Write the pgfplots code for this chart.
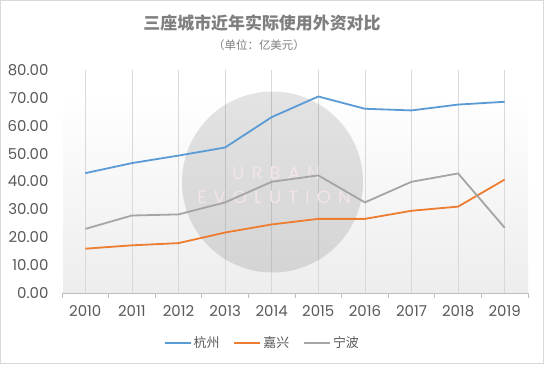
\documentclass[border=0pt]{standalone}
\usepackage{pgfplots}
\pgfplotsset{compat=1.18}
\usepackage{fontspec}
\setmainfont{Poppins}
\newfontfamily\cjk{Noto Sans CJK SC}
\definecolor{hz}{HTML}{5B9BD5}
\definecolor{jx}{HTML}{ED7D31}
\definecolor{nb}{HTML}{A5A5A5}
\definecolor{txt}{HTML}{595959}
\definecolor{ttl}{HTML}{7F7F7F}
\definecolor{wm}{HTML}{F3E4E8}
\pgfdeclarelayer{bg}
\pgfsetlayers{bg,main}
\begin{document}
\begin{tikzpicture}
\begin{axis}[
  at={(0,0)}, anchor=south west, scale only axis,
  width=466bp, height=223bp,
  xmin=-0.5, xmax=9.5, ymin=0, ymax=80,
  clip=false,
  axis lines*=left,
  x axis line style={draw=black!25, line width=0.8bp},
  y axis line style={draw=none},
  xtick={0,...,9},
  xticklabels={2010,2011,2012,2013,2014,2015,2016,2017,2018,2019},
  minor xtick={-0.5,0.5,...,9.5},
  xmajorgrids=true, xminorgrids=false,
  major grid style={draw=black!15, line width=0.8bp},
  major tick length=0pt,
  minor tick length=5bp,
  tick align=outside,
  minor x tick style={draw=black!25, line width=0.8bp},
  ytick={0,10,...,80},
  /pgf/number format/assume math mode=true,
  yticklabel style={/pgf/number format/fixed, /pgf/number format/fixed zerofill, /pgf/number format/precision=2, xshift=-10bp},
  tick label style={text=txt, font=\fontsize{15}{15}\selectfont},
  xticklabel style={yshift=-9bp},
  legend style={at={(0.43,-0.224)}, anchor=center, draw=none, fill=none,
    legend columns=3, font=\cjk\fontsize{13}{13}\selectfont, text=txt,
    /tikz/every even column/.append style={column sep=12bp}},
  legend image code/.code={\draw[#1, line width=1.8bp] (0,0) -- (26bp,0);},
  every axis plot/.append style={line width=1.8bp, mark=none},
]
\fill[black, opacity=0.11] (axis cs:4.017,39.82) circle [radius=90.5bp];
\node[text=wm, font=\addfontfeature{LetterSpace=40}\fontsize{18}{18}\selectfont] at (axis cs:4.092,43.05) {URBAN};
\node[text=wm, font=\addfontfeature{LetterSpace=40}\fontsize{18}{18}\selectfont] at (axis cs:4.049,34.44) {EVOLUTION};
\addplot[hz] coordinates {(0,43.0) (1,46.6) (2,49.3) (3,52.2) (4,63.1) (5,70.5) (6,66.1) (7,65.5) (8,67.6) (9,68.6)};
\addlegendentry{杭州}
\addplot[jx] coordinates {(0,15.9) (1,17.1) (2,17.9) (3,21.7) (4,24.6) (5,26.6) (6,26.6) (7,29.5) (8,31.0) (9,40.7)};
\addlegendentry{嘉兴}
\addplot[nb] coordinates {(0,23.0) (1,27.8) (2,28.2) (3,32.5) (4,39.9) (5,42.2) (6,32.5) (7,39.9) (8,42.9) (9,23.4)};
\addlegendentry{宁波}
\end{axis}
\begin{scope}[x=1bp, y=-1bp, shift={(-62bp,293bp)}]
\begin{pgfonlayer}{bg}
\fill[white] (0,0) rectangle (544,364);
\shade[top color=white, bottom color=black!7] (63,94) rectangle (528,293);
\end{pgfonlayer}
\draw[color=black!15, line width=1bp] (0.5,0.5) rectangle (543.5,363.5);
\node[font=\cjk\bfseries\fontsize{17}{17}\selectfont, text=ttl] at (262,23) {三座城市近年实际使用外资对比};
\node[font=\cjk\fontsize{11.5}{11.5}\selectfont, text=ttl] at (259,45) {（单位：亿美元）};
\pgfresetboundingbox
\path[use as bounding box] (0,0) rectangle (544,364);
\end{scope}
\end{tikzpicture}
\end{document}
